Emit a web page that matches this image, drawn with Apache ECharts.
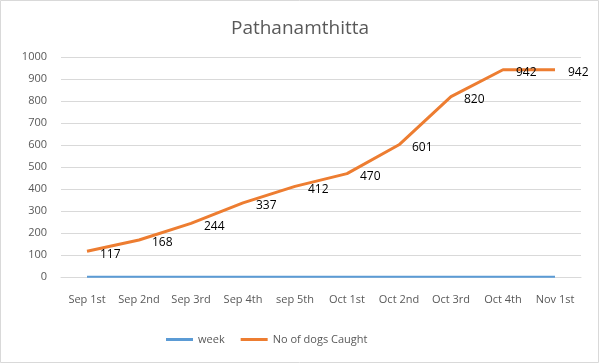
<!DOCTYPE html>
<html><head><meta charset="utf-8">
<script src="https://cdn.jsdelivr.net/npm/echarts@6/dist/echarts.min.js"></script>
<style>html,body{margin:0;padding:0;background:#fff}#c{width:600px;height:364px}</style>
</head><body><div id="c"></div>
<script>
const categories = ['Sep 1st','Sep 2nd','Sep 3rd','Sep 4th','sep 5th','Oct 1st','Oct 2nd','Oct 3rd','Oct 4th','Nov 1st'];
const weekValues = [1,1,1,1,1,1,1,1,1,1];
const dogsCaught = [117,168,244,337,412,470,601,820,942,942];
const yTicks = {min:0, max:1000, interval:100};
const FONT = '"Open Sans", "Liberation Sans", sans-serif';
const chart = echarts.init(document.getElementById('c'), null, {renderer:'canvas'});
chart.setOption({
  animation:false,
  backgroundColor:'#fff',
  textStyle:{fontFamily:FONT},
  title:{text:'Pathanamthitta', left:'center', top:14,
    textStyle:{fontFamily:FONT, fontSize:19, fontWeight:'normal', color:'#595959'}},
  graphic:[{type:'rect', shape:{x:0.5,y:0.5,width:598,height:362},
    style:{fill:'none', stroke:'#d9d9d9', lineWidth:1}, silent:true}],
  grid:{left:61, right:19, top:57, bottom:87, containLabel:false},
  legend:{bottom:14, left:161, itemWidth:27, itemHeight:3, itemGap:16, icon:'rect',
    textStyle:{fontFamily:FONT, fontSize:11, color:'#595959'},
    data:[{name:'week', itemStyle:{color:'#5B9BD5'}}, {name:'No of dogs Caught', itemStyle:{color:'#ED7D31', opacity:1}}]},
  xAxis:{type:'category', data:categories, boundaryGap:true,
    axisLine:{show:true, lineStyle:{color:'#d9d9d9'}}, axisTick:{show:false},
    axisLabel:{color:'#595959', fontSize:11, fontFamily:FONT, margin:17, interval:0}},
  yAxis:{type:'value', min:yTicks.min, max:yTicks.max, interval:yTicks.interval,
    axisLine:{show:false}, axisTick:{show:false},
    axisLabel:{color:'#595959', fontSize:11, fontFamily:FONT, margin:14, formatter:v=>String(v)},
    splitLine:{lineStyle:{color:'#d9d9d9'}}},
  series:[
    {name:'week', type:'line', data:weekValues, symbol:'none',
      lineStyle:{color:'#5B9BD5', width:2}, itemStyle:{color:'#5B9BD5'}},
    {name:'No of dogs Caught', type:'line', data:dogsCaught, symbol:'circle', symbolSize:0.01, showSymbol:true,
      lineStyle:{color:'#ED7D31', width:3}, itemStyle:{color:'#ED7D31'},
      label:{show:true, position:'right', distance:13, offset:[0,3], color:'#000', fontSize:12, fontFamily:FONT}}
  ]
});
</script></body></html>
